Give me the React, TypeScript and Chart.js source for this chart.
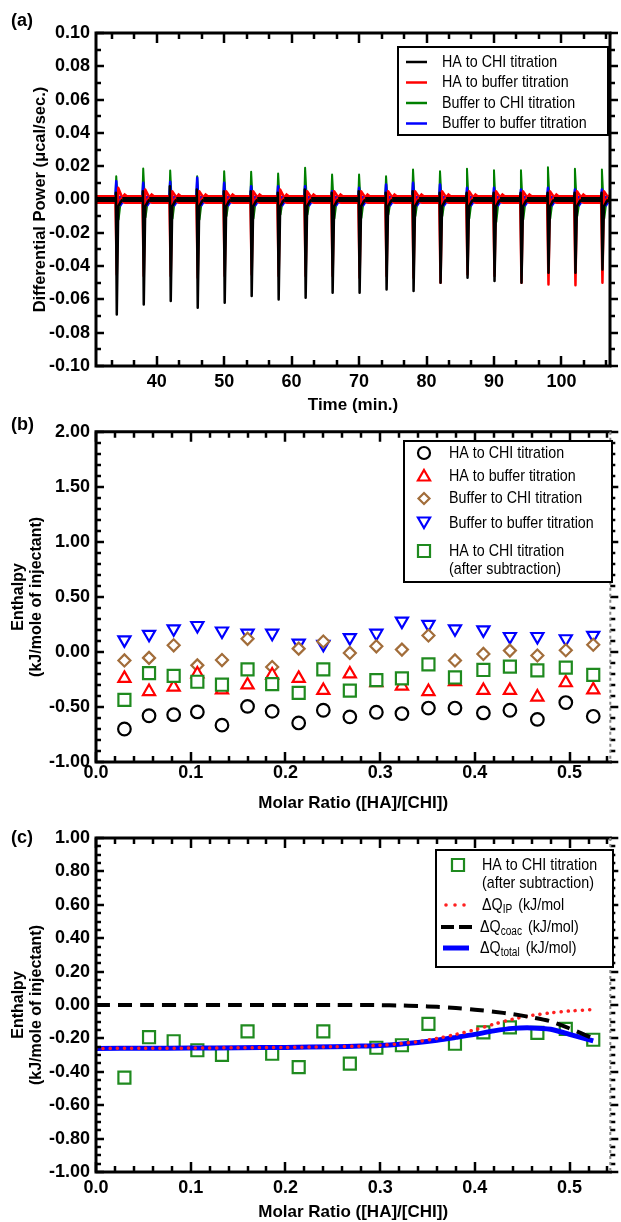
import { useEffect, useRef } from "react";
import { Chart, registerables } from "chart.js";

Chart.register(...registerables);

const FAMILY = '"Liberation Sans", Arial, Helvetica, sans-serif';

// ---------------- Panel (a) data ----------------
const timeRange = [31.0, 107.2];
const timeTicks = [40, 50, 60, 70, 80, 90, 100];
const powerTicks = [-0.1, -0.08, -0.06, -0.04, -0.02, 0, 0.02, 0.04, 0.06, 0.08, 0.1];
const injectionTimes = [34, 38, 42, 46, 50, 54, 58, 62, 66, 70, 74, 78, 82, 86, 90, 94, 98, 102, 106];
const blackUp = [0.004, 0.005, 0.008, 0.006, 0.005, 0.005, 0.004, 0.006, 0.004, 0.005, 0.004, 0.005, 0.004, 0.004, 0.004, 0.004, 0.004, 0.004, 0.004];
const blackDown = [-0.069, -0.063, -0.061, -0.065, -0.062, -0.058, -0.06, -0.059, -0.056, -0.056, -0.054, -0.055, -0.05, -0.047, -0.049, -0.05, -0.044, -0.044, -0.042];
const redUp = [0.007, 0.006, 0.005, 0.005, 0.005, 0.005, 0.006, 0.005, 0.005, 0.005, 0.005, 0.005, 0.005, 0.005, 0.005, 0.005, 0.005, 0.005, 0.005];
const redDown = [-0.045, -0.046, -0.046, -0.047, -0.046, -0.045, -0.046, -0.046, -0.046, -0.047, -0.046, -0.047, -0.05, -0.045, -0.046, -0.05, -0.051, -0.0515, -0.05];
const greenUp = [0.014, 0.0186, 0.0174, 0.014, 0.017, 0.0166, 0.0156, 0.019, 0.015, 0.015, 0.014, 0.018, 0.017, 0.0184, 0.0176, 0.0176, 0.0194, 0.0184, 0.018];
const greenDown = [-0.012, -0.0106, -0.0114, -0.012, -0.01, -0.0114, -0.009, -0.009, -0.0114, -0.011, -0.009, -0.01, -0.01, -0.0114, -0.0134, -0.012, -0.0114, -0.01, -0.0114];
const blueUp = [0.011, 0.01, 0.0106, 0.013, 0.01, 0.008, 0.008, 0.008, 0.005, 0.007, 0.009, 0.01, 0.009, 0.007, 0.007, 0.006, 0.007, 0.006, 0.006];
const blueDown = [-0.003, -0.003, -0.003, -0.003, -0.003, -0.003, -0.003, -0.003, -0.003, -0.003, -0.003, -0.003, -0.003, -0.003, -0.003, -0.003, -0.003, -0.003, -0.003];

// ---------------- Panel (b) data ----------------
const ratioRange = [0, 0.543];
const ratioTicks = [0, 0.1, 0.2, 0.3, 0.4, 0.5];
const enthalpyTicksB = [-1, -0.5, 0, 0.5, 1, 1.5, 2];
const molarRatio = [0.03, 0.056, 0.082, 0.107, 0.133, 0.16, 0.186, 0.214, 0.24, 0.268, 0.296, 0.323, 0.351, 0.379, 0.409, 0.437, 0.466, 0.496, 0.525];
const haToChi = [-0.7, -0.58, -0.57, -0.545, -0.665, -0.495, -0.54, -0.645, -0.53, -0.59, -0.548, -0.56, -0.51, -0.51, -0.554, -0.53, -0.613, -0.46, -0.585];
const haToBuffer = [-0.24, -0.36, -0.32, -0.2, -0.345, -0.3, -0.21, -0.24, -0.35, -0.2, -0.28, -0.31, -0.36, -0.27, -0.35, -0.35, -0.41, -0.28, -0.345];
const bufferToChi = [-0.077, -0.054, 0.06, -0.122, -0.074, 0.119, -0.137, 0.03, 0.095, -0.009, 0.051, 0.021, 0.149, -0.077, -0.018, 0.012, -0.033, 0.015, 0.065];
const bufferToBuffer = [0.11, 0.16, 0.21, 0.24, 0.19, 0.17, 0.17, 0.08, 0.07, 0.13, 0.17, 0.28, 0.25, 0.21, 0.2, 0.14, 0.14, 0.12, 0.15];
const afterSubtraction = [-0.435, -0.193, -0.217, -0.271, -0.298, -0.158, -0.292, -0.372, -0.158, -0.351, -0.256, -0.241, -0.113, -0.232, -0.164, -0.134, -0.167, -0.143, -0.208];

// ---------------- Panel (c) data ----------------
const enthalpyTicksC = [-1, -0.8, -0.6, -0.4, -0.2, 0, 0.2, 0.4, 0.6, 0.8, 1];
const curveRatio = [0, 0.05, 0.1, 0.15, 0.2, 0.25, 0.28, 0.3, 0.32, 0.34, 0.36, 0.38, 0.4, 0.42, 0.44, 0.46, 0.48, 0.5, 0.525];
const dQip = [-0.26, -0.259, -0.258, -0.256, -0.254, -0.25, -0.246, -0.241, -0.232, -0.219, -0.2, -0.176, -0.148, -0.115, -0.085, -0.063, -0.047, -0.036, -0.027];
const dQcoac = [0, 0, 0, 0, 0, 0, 0, -0.001, -0.003, -0.006, -0.011, -0.018, -0.028, -0.04, -0.055, -0.074, -0.098, -0.14, -0.2];
const dQtotal = [-0.26, -0.259, -0.258, -0.256, -0.254, -0.25, -0.246, -0.242, -0.235, -0.225, -0.211, -0.194, -0.176, -0.155, -0.14, -0.137, -0.145, -0.176, -0.215];

// ---------------- helpers ----------------
type Pt = { x: number; y: number };
const zip = (xs: number[], ys: number[]): Pt[] => xs.map((x, i) => ({ x, y: ys[i] }));

function trace(shape: (t: number, i: number) => Pt[]): Pt[] {
  const pts: Pt[] = [{ x: timeRange[0], y: 0 }];
  injectionTimes.forEach((t, i) => pts.push(...shape(t, i)));
  pts.push({ x: timeRange[1], y: 0 });
  return pts;
}

function minorValues(majors: number[], step: number, min: number, max: number) {
  const out: number[] = [];
  const a = majors[0];
  const k0 = Math.ceil((min - a) / step - 1e-6);
  const k1 = Math.floor((max - a) / step + 1e-6);
  for (let k = k0; k <= k1; k++) {
    const v = a + k * step;
    if (!majors.some((m) => Math.abs(m - v) < step * 0.01)) out.push(v);
  }
  return out;
}

type FrameCfg = {
  label: string;
  labelY: number;
  xMajors: number[];
  xMinorStep: number;
  yMajors: number[];
  yMinorStep: number;
  rightDashed: boolean;
  legend: (ctx: CanvasRenderingContext2D) => void;
};

function makeFramePlugin(cfg: FrameCfg) {
  return {
    id: "frame",
    afterDatasetsDraw(chart: any) {
      const { ctx, chartArea } = chart;
      const { left, right, top, bottom } = chartArea;
      const xs = chart.scales.x;
      const ys = chart.scales.y;
      ctx.save();
      ctx.strokeStyle = "#000";
      ctx.lineCap = "butt";
      const xMin = minorValues(cfg.xMajors, cfg.xMinorStep, xs.min, xs.max);
      const yMin = minorValues(cfg.yMajors, cfg.yMinorStep, ys.min, ys.max);
      const hTick = (v: number, len: number) => {
        const px = Math.round(xs.getPixelForValue(v));
        ctx.beginPath();
        ctx.moveTo(px, bottom);
        ctx.lineTo(px, bottom - len);
        ctx.moveTo(px, top);
        ctx.lineTo(px, top + len);
        ctx.stroke();
      };
      const vTick = (v: number, len: number, rlen: number) => {
        const py = Math.round(ys.getPixelForValue(v));
        ctx.beginPath();
        ctx.moveTo(left, py);
        ctx.lineTo(left + len, py);
        ctx.moveTo(right, py);
        ctx.lineTo(right + rlen, py);
        ctx.stroke();
      };
      ctx.lineWidth = 2.5;
      cfg.xMajors.forEach((v) => hTick(v, 10));
      cfg.yMajors.forEach((v) => vTick(v, 8, 8));
      xMin.forEach((v) => hTick(v, 6));
      yMin.forEach((v) => vTick(v, 5, 5));
      // frame
      ctx.lineWidth = 3;
      ctx.beginPath();
      ctx.moveTo(left, top - 1.5);
      ctx.lineTo(left, bottom);
      ctx.lineTo(right + 1.5, bottom);
      ctx.moveTo(left - 1.5, top);
      ctx.lineTo(right + 1.5, top);
      ctx.stroke();
      ctx.beginPath();
      if (cfg.rightDashed) {
        ctx.strokeStyle = "#888";
        ctx.lineWidth = 2;
        ctx.setLineDash([3, 3]);
      }
      ctx.moveTo(right, top);
      ctx.lineTo(right, bottom);
      ctx.stroke();
      ctx.setLineDash([]);
      // panel label
      ctx.fillStyle = "#000";
      ctx.font = `bold 18px ${FAMILY}`;
      ctx.textAlign = "left";
      ctx.textBaseline = "middle";
      ctx.fillText(cfg.label, 11, cfg.labelY);
      ctx.restore();
      ctx.save();
      cfg.legend(ctx);
      ctx.restore();
    },
  };
}

function legendBox(ctx: CanvasRenderingContext2D, x0: number, y0: number, x1: number, y1: number) {
  ctx.fillStyle = "#fff";
  ctx.fillRect(x0, y0, x1 - x0, y1 - y0);
  ctx.strokeStyle = "#000";
  ctx.lineWidth = 2;
  ctx.strokeRect(x0, y0, x1 - x0, y1 - y0);
}

const SQUEEZE = 0.84;

function legendText(ctx: CanvasRenderingContext2D, text: string, x: number, y: number, size = 17) {
  ctx.save();
  ctx.translate(x, y);
  ctx.scale(SQUEEZE, 1);
  ctx.fillStyle = "#000";
  ctx.font = `${size}px ${FAMILY}`;
  ctx.textAlign = "left";
  ctx.textBaseline = "middle";
  ctx.fillText(text, 0, 0);
  const w = ctx.measureText(text).width * SQUEEZE;
  ctx.restore();
  return w;
}

function drawSubLabel(ctx: CanvasRenderingContext2D, sub: string, rest: string, x: number, y: number) {
  let cx = x;
  cx += legendText(ctx, "ΔQ", cx, y, 17);
  cx += legendText(ctx, sub, cx, y + 5, 12) + 2;
  legendText(ctx, rest, cx, y, 17);
}

function marker(ctx: CanvasRenderingContext2D, kind: string, x: number, y: number, r: number, color: string) {
  ctx.save();
  ctx.strokeStyle = color;
  ctx.fillStyle = "#fff";
  ctx.lineWidth = 2.2;
  ctx.beginPath();
  if (kind === "circle") ctx.arc(x, y, r, 0, Math.PI * 2);
  else if (kind === "triangle") {
    ctx.moveTo(x, y - r);
    ctx.lineTo(x + r * 0.866, y + r * 0.5);
    ctx.lineTo(x - r * 0.866, y + r * 0.5);
    ctx.closePath();
  } else if (kind === "triangleDown") {
    ctx.moveTo(x, y + r);
    ctx.lineTo(x + r * 0.866, y - r * 0.5);
    ctx.lineTo(x - r * 0.866, y - r * 0.5);
    ctx.closePath();
  } else if (kind === "diamond") {
    ctx.moveTo(x, y - r);
    ctx.lineTo(x + r, y);
    ctx.lineTo(x, y + r);
    ctx.lineTo(x - r, y);
    ctx.closePath();
  } else if (kind === "square") {
    const s = r * 0.707;
    ctx.rect(x - s, y - s, 2 * s, 2 * s);
  }
  ctx.fill();
  ctx.stroke();
  ctx.restore();
}

const tickFont = { family: FAMILY, size: 18, weight: "bold" as const };

function axes(o: {
  xRange: number[];
  xTicks: number[];
  xFmt: (v: number) => string;
  xTitle: string;
  xHeight: number;
  xTickPad: number;
  xTitlePad: number;
  yRange: number[];
  yTicks: number[];
  yTitle: string | string[];
  yTitleSize: number;
  yTitleLH: number;
  yTitlePad: number;
}) {
  return {
    x: {
      type: "linear",
      position: "bottom",
      min: o.xRange[0],
      max: o.xRange[1],
      grid: { display: false, drawTicks: false },
      border: { display: false },
      ticks: { font: tickFont, color: "#000", padding: o.xTickPad, maxRotation: 0, autoSkip: false, callback: (v: any) => o.xFmt(Number(v)) },
      afterBuildTicks: (s: any) => {
        s.ticks = o.xTicks.map((value) => ({ value }));
      },
      afterFit: (s: any) => {
        s.height = o.xHeight;
      },
      title: {
        display: true,
        text: o.xTitle,
        color: "#000",
        font: { family: FAMILY, size: 17, weight: "bold", lineHeight: 1.15 },
        padding: { top: 0, bottom: o.xTitlePad },
      },
    },
    y: {
      type: "linear",
      position: "left",
      min: o.yRange[0],
      max: o.yRange[1],
      grid: { display: false, drawTicks: false },
      border: { display: false },
      ticks: { font: tickFont, color: "#000", padding: 6, autoSkip: false, callback: (v: any) => Number(v).toFixed(2) },
      afterBuildTicks: (s: any) => {
        s.ticks = o.yTicks.map((value) => ({ value }));
      },
      afterFit: (s: any) => {
        s.width = 96;
      },
      title: {
        display: true,
        text: o.yTitle,
        color: "#000",
        font: { family: FAMILY, size: o.yTitleSize, weight: "bold", lineHeight: o.yTitleLH },
        padding: { top: o.yTitlePad, bottom: 0 },
      },
    },
  };
}

function baseOptions(padTop: number, padRight: number, scales: any) {
  return {
    animation: false,
    responsive: false,
    maintainAspectRatio: false,
    events: [],
    layout: { padding: { left: 0, right: padRight, top: padTop, bottom: 0 } },
    plugins: { legend: { display: false }, tooltip: { enabled: false } },
    scales,
  };
}

// ---------------- chart builders ----------------
function buildA(canvas: HTMLCanvasElement) {
  const lineDs = (label: string, data: Pt[], color: string, bandW: number, thinW: number, order: number) => ({
    label,
    data,
    showLine: true,
    borderColor: color,
    borderWidth: thinW,
    borderJoinStyle: "round",
    borderCapStyle: "butt",
    pointRadius: 0,
    tension: 0,
    order,
    segment: {
      borderWidth: (c: any) =>
        Math.abs(data[c.p0DataIndex].y) <= 0.0035 && Math.abs(data[c.p1DataIndex].y) <= 0.0035 ? bandW : thinW,
    },
  });
  const black = trace((t, i) => [
    { x: t - 0.15, y: 0 },
    { x: t - 0.05, y: blackUp[i] },
    { x: t + 0.08, y: blackDown[i] },
    { x: t + 0.3, y: -0.004 },
    { x: t + 0.9, y: 0 },
  ]);
  const red = trace((t, i) => [
    { x: t - 0.12, y: 0 },
    { x: t + 0.08, y: redDown[i] },
    { x: t + 0.3, y: redUp[i] },
    { x: t + 0.8, y: 0.002 },
    { x: t + 1.4, y: 0 },
  ]);
  const green = trace((t, i) => [
    { x: t - 0.12, y: 0 },
    { x: t, y: greenUp[i] },
    { x: t + 0.35, y: greenDown[i] },
    { x: t + 0.7, y: 0 },
  ]);
  const blue = trace((t, i) => [
    { x: t - 0.15, y: 0 },
    { x: t, y: blueUp[i] },
    { x: t + 0.2, y: blueDown[i] },
    { x: t + 0.7, y: 0 },
  ]);
  const frame = makeFramePlugin({
    label: "(a)",
    labelY: 21,
    xMajors: timeTicks,
    xMinorStep: 10 / 3,
    yMajors: powerTicks,
    yMinorStep: 0.01,
    rightDashed: false,
    legend: (ctx) => {
      legendBox(ctx, 398, 47, 608, 135);
      const rows: [string, string, number][] = [
        ["HA to CHI titration", "#000000", 62],
        ["HA to buffer titration", "#ff0000", 82.5],
        ["Buffer to CHI titration", "#008000", 103],
        ["Buffer to buffer titration", "#0000ff", 123.5],
      ];
      rows.forEach(([t, c, y]) => {
        ctx.strokeStyle = c;
        ctx.lineWidth = 2.5;
        ctx.beginPath();
        ctx.moveTo(406, y);
        ctx.lineTo(427, y);
        ctx.stroke();
        legendText(ctx, t, 442, y);
      });
    },
  });
  return new Chart(canvas, {
    type: "scatter",
    data: {
      datasets: [
        lineDs("HA to CHI titration", black, "#000000", 5, 2.5, 0),
        lineDs("HA to buffer titration", red, "#ff0000", 9, 2.5, 1),
        lineDs("Buffer to buffer titration", blue, "#0000ff", 8, 2.5, 2),
        lineDs("Buffer to CHI titration", green, "#008000", 2, 2, 3),
      ],
    },
    options: baseOptions(
      33,
      11,
      axes({
        xRange: timeRange,
        xTicks: timeTicks,
        xFmt: (v) => String(v),
        xTitle: "Time (min.)",
        xHeight: 49,
        xTickPad: 5,
        xTitlePad: 0,
        yRange: [-0.1, 0.1],
        yTicks: powerTicks,
        yTitle: "Differential Power (μcal/sec.)",
        yTitleSize: 16.5,
        yTitleLH: 1.15,
        yTitlePad: 31,
      })
    ) as any,
    plugins: [frame],
  } as any);
}

const GREEN_M = "#1f8a1f";
const BROWN = "#a26d3a";

function buildB(canvas: HTMLCanvasElement) {
  const ptDs = (label: string, ys: number[], color: string, style: string, r: number, order: number, rotation = 0) => ({
    label,
    data: zip(molarRatio, ys),
    pointStyle: style,
    pointRadius: r,
    pointRotation: rotation,
    pointBorderWidth: 2.2,
    borderColor: color,
    backgroundColor: "#ffffff",
    pointBorderColor: color,
    pointBackgroundColor: "#ffffff",
    order,
  });
  const oy = 415;
  const frame = makeFramePlugin({
    label: "(b)",
    labelY: 425 - oy,
    xMajors: ratioTicks,
    xMinorStep: 0.02,
    yMajors: enthalpyTicksB,
    yMinorStep: 0.1,
    rightDashed: true,
    legend: (ctx) => {
      legendBox(ctx, 404, 441 - oy, 612, 582 - oy);
      marker(ctx, "circle", 424, 453 - oy, 6, "#000");
      legendText(ctx, "HA to CHI titration", 449, 453 - oy);
      marker(ctx, "triangle", 424, 477 - oy, 7, "#ff0000");
      legendText(ctx, "HA to buffer titration", 449, 476 - oy);
      marker(ctx, "diamond", 424, 498.5 - oy, 5.5, BROWN);
      legendText(ctx, "Buffer to CHI titration", 449, 498.5 - oy);
      marker(ctx, "triangleDown", 424, 521 - oy, 7, "#0000ff");
      legendText(ctx, "Buffer to buffer titration", 449, 523 - oy);
      marker(ctx, "square", 424, 551 - oy, 8.5, GREEN_M);
      legendText(ctx, "HA to CHI titration", 449, 551 - oy);
      legendText(ctx, "(after subtraction)", 449, 569 - oy);
    },
  });
  return new Chart(canvas, {
    type: "scatter",
    data: {
      datasets: [
        ptDs("HA to CHI titration", haToChi, "#000000", "circle", 6.3, 4),
        ptDs("HA to buffer titration", haToBuffer, "#ff0000", "triangle", 7, 1),
        ptDs("Buffer to CHI titration", bufferToChi, BROWN, "rectRot", 6, 2),
        ptDs("Buffer to buffer titration", bufferToBuffer, "#0000ff", "triangle", 7, 3, 180),
        ptDs("HA to CHI titration (after subtraction)", afterSubtraction, GREEN_M, "rect", 8.5, 0),
      ],
    },
    options: baseOptions(
      426 - oy,
      621 - 617,
      axes({
        xRange: ratioRange,
        xTicks: ratioTicks,
        xFmt: (v) => v.toFixed(1),
        xTitle: "Molar Ratio ([HA]/[CHI])",
        xHeight: 820 - 762,
        xTickPad: 0,
        xTitlePad: 7,
        yRange: [-1, 2],
        yTicks: enthalpyTicksB,
        yTitle: ["Enthalpy", "(kJ/mole of injectant)"],
        yTitleSize: 16,
        yTitleLH: 1.12,
        yTitlePad: 10,
      })
    ) as any,
    plugins: [frame],
  } as any);
}

function buildC(canvas: HTMLCanvasElement) {
  const oy = 820;
  const frame = makeFramePlugin({
    label: "(c)",
    labelY: 838 - oy,
    xMajors: ratioTicks,
    xMinorStep: 0.02,
    yMajors: enthalpyTicksC,
    yMinorStep: 0.05,
    rightDashed: true,
    legend: (ctx) => {
      legendBox(ctx, 436, 850 - oy, 613, 967 - oy);
      marker(ctx, "square", 458, 865 - oy, 8.5, GREEN_M);
      legendText(ctx, "HA to CHI titration", 482, 865 - oy);
      legendText(ctx, "(after subtraction)", 482, 883.5 - oy);
      ctx.fillStyle = "#ff2020";
      [446, 455, 464].forEach((x) => {
        ctx.beginPath();
        ctx.arc(x, 905 - oy, 1.8, 0, Math.PI * 2);
        ctx.fill();
      });
      drawSubLabel(ctx, "IP", " (kJ/mol", 482, 905 - oy);
      ctx.strokeStyle = "#000";
      ctx.lineWidth = 4;
      ctx.setLineDash([13, 5]);
      ctx.beginPath();
      ctx.moveTo(441, 927 - oy);
      ctx.lineTo(473, 927 - oy);
      ctx.stroke();
      ctx.setLineDash([]);
      drawSubLabel(ctx, "coac", " (kJ/mol)", 480, 927 - oy);
      ctx.strokeStyle = "#0000ff";
      ctx.lineWidth = 5;
      ctx.beginPath();
      ctx.moveTo(443, 948 - oy);
      ctx.lineTo(469, 948 - oy);
      ctx.stroke();
      drawSubLabel(ctx, "total", " (kJ/mol)", 480, 948 - oy);
    },
  });
  return new Chart(canvas, {
    type: "scatter",
    data: {
      datasets: [
        {
          label: "ΔQcoac (kJ/mol)",
          data: zip(curveRatio, dQcoac),
          showLine: true,
          borderColor: "#000000",
          borderWidth: 4,
          borderDash: [14, 8],
          pointRadius: 0,
          tension: 0.3,
          order: 0,
        },
        {
          label: "ΔQIP (kJ/mol)",
          data: zip(curveRatio, dQip),
          showLine: true,
          borderColor: "#ff2020",
          borderWidth: 3.5,
          borderDash: [0.1, 7],
          borderCapStyle: "round",
          pointRadius: 0,
          tension: 0.3,
          order: 1,
        },
        {
          label: "ΔQtotal (kJ/mol)",
          data: zip(curveRatio, dQtotal),
          showLine: true,
          borderColor: "#0000ff",
          borderWidth: 5,
          pointRadius: 0,
          tension: 0.3,
          order: 2,
        },
        {
          label: "HA to CHI titration (after subtraction)",
          data: zip(molarRatio, afterSubtraction),
          pointStyle: "rect",
          pointRadius: 8.5,
          pointBorderWidth: 2.2,
          pointBorderColor: GREEN_M,
          pointBackgroundColor: "#ffffff",
          borderColor: GREEN_M,
          backgroundColor: "#ffffff",
          order: 3,
        },
      ],
    },
    options: baseOptions(
      838 - oy,
      621 - 617,
      axes({
        xRange: ratioRange,
        xTicks: ratioTicks,
        xFmt: (v) => v.toFixed(1),
        xTitle: "Molar Ratio ([HA]/[CHI])",
        xHeight: 1222 - 1172,
        xTickPad: 5,
        xTitlePad: 0,
        yRange: [-1, 1],
        yTicks: enthalpyTicksC,
        yTitle: ["Enthalpy", "(kJ/mole of injectant)"],
        yTitleSize: 16,
        yTitleLH: 1.12,
        yTitlePad: 10,
      })
    ) as any,
    plugins: [frame],
  } as any);
}

function Panel({ top, height, build }: { top: number; height: number; build: (c: HTMLCanvasElement) => Chart }) {
  const ref = useRef<HTMLCanvasElement | null>(null);
  useEffect(() => {
    if (!ref.current) return;
    const chart = build(ref.current);
    return () => chart.destroy();
  }, [build]);
  return (
    <canvas
      ref={ref}
      width={621}
      height={height}
      style={{ position: "absolute", left: 0, top, width: 621, height, display: "block" }}
    />
  );
}

export default function App() {
  return (
    <div style={{ position: "absolute", left: 0, top: 0, width: 621, height: 1222, background: "#fff", overflow: "hidden" }}>
      <Panel top={0} height={415} build={buildA} />
      <Panel top={415} height={405} build={buildB} />
      <Panel top={820} height={402} build={buildC} />
    </div>
  );
}
